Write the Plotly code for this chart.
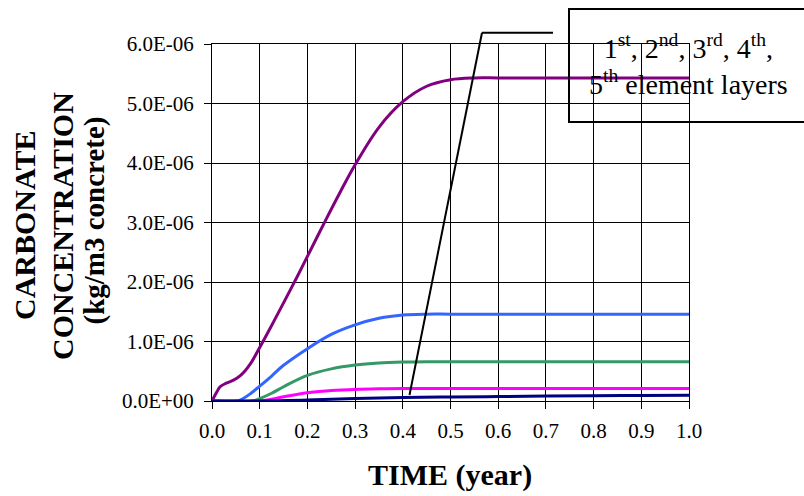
import plotly.graph_objects as go

# Carbonate concentration (units of 1E-06 kg/m3 concrete) versus time (year)
layer1_t = [0, 0.01, 0.017, 0.03, 0.045, 0.06, 0.08, 0.1, 0.125, 0.15, 0.178, 0.2,
            0.237, 0.27, 0.3, 0.35, 0.4, 0.45, 0.5, 0.55, 0.6, 0.7, 0.8, 0.9, 1.0]
layer1_c = [0, 0.15, 0.24, 0.3, 0.35, 0.43, 0.62, 0.9, 1.27, 1.65, 2.08, 2.43,
            3.02, 3.53, 3.97, 4.6, 5.03, 5.29, 5.4, 5.43, 5.43, 5.43, 5.43, 5.43, 5.43]

layer2_t = [0, 0.05, 0.06, 0.08, 0.1, 0.125, 0.15, 0.2, 0.25, 0.3, 0.35, 0.4, 0.45, 0.5,
            0.6, 0.7, 0.8, 0.9, 1.0]
layer2_c = [0, 0, 0.02, 0.12, 0.25, 0.42, 0.6, 0.88, 1.12, 1.28, 1.39, 1.445, 1.46, 1.46,
            1.46, 1.46, 1.46, 1.46, 1.46]

layer3_t = [0, 0.08, 0.09, 0.1, 0.125, 0.15, 0.2, 0.25, 0.3, 0.35, 0.4, 0.45, 0.5,
            0.6, 0.7, 0.8, 0.9, 1.0]
layer3_c = [0, 0, 0.01, 0.04, 0.13, 0.24, 0.43, 0.54, 0.605, 0.64, 0.655, 0.66, 0.66,
            0.66, 0.66, 0.66, 0.66, 0.66]

layer4_t = [0, 0.1, 0.125, 0.15, 0.2, 0.25, 0.3, 0.35, 0.4, 0.5, 0.6, 0.7, 0.8, 0.9, 1.0]
layer4_c = [0, 0, 0.03, 0.07, 0.14, 0.175, 0.195, 0.205, 0.21, 0.21, 0.21, 0.21, 0.21,
            0.21, 0.21]

layer5_t = [0, 0.1, 0.2, 0.3, 0.4, 0.5, 0.6, 0.7, 0.8, 0.9, 1.0]
layer5_c = [0, 0, 0.017, 0.04, 0.057, 0.067, 0.075, 0.082, 0.088, 0.093, 0.098]

series = [
    (layer1_t, layer1_c, "#800080"),
    (layer2_t, layer2_c, "#3366FF"),
    (layer3_t, layer3_c, "#339966"),
    (layer4_t, layer4_c, "#FF00FF"),
    (layer5_t, layer5_c, "#000080"),
]

y_tick_vals = [0, 1, 2, 3, 4, 5, 6]
y_tick_text = ["0.0E+00", "1.0E-06", "2.0E-06", "3.0E-06", "4.0E-06", "5.0E-06", "6.0E-06"]
x_tick_vals = [0, 0.1, 0.2, 0.3, 0.4, 0.5, 0.6, 0.7, 0.8, 0.9, 1.0]
x_tick_text = ["0.0", "0.1", "0.2", "0.3", "0.4", "0.5", "0.6", "0.7", "0.8", "0.9", "1.0"]

SCALE = 1e-6
SERIF = "Liberation Serif"

fig = go.Figure()
for t, c, col in series:
    fig.add_trace(go.Scatter(
        x=t, y=[v * SCALE for v in c], mode="lines",
        line=dict(color=col, width=3, shape="spline", smoothing=1.0),
        showlegend=False, hoverinfo="skip",
    ))

W, H = 804, 496
L, R, T, B = 212, 115, 44, 95
PW, PH = W - L - R, H - T - B


def px_x(p):
    return (p - L) / PW


def px_y(p):
    return (H - B - p) / PH


fig.update_layout(
    width=W, height=H,
    margin=dict(l=L, r=R, t=T, b=B, pad=0),
    paper_bgcolor="white", plot_bgcolor="white",
    font=dict(family=SERIF, color="black", size=21),
    xaxis=dict(
        range=[0, 1], tickvals=x_tick_vals, ticktext=x_tick_text,
        ticks="outside", ticklen=7, tickwidth=1, tickcolor="black",
        showgrid=True, gridcolor="black", gridwidth=1,
        showline=True, linecolor="black", linewidth=1, mirror=True,
        zeroline=False, tickfont=dict(size=21, family=SERIF, color="black"),
        ticklabelstandoff=4,
    ),
    yaxis=dict(
        range=[0, 6 * SCALE], tickvals=[v * SCALE for v in y_tick_vals], ticktext=y_tick_text,
        ticks="outside", ticklen=7, tickwidth=1, tickcolor="black",
        showgrid=True, gridcolor="black", gridwidth=1,
        showline=True, linecolor="black", linewidth=1, mirror=True,
        zeroline=False, tickfont=dict(size=21, family=SERIF, color="black"),
        ticklabelstandoff=6,
    ),
)

# Axis titles
fig.add_annotation(text="<b>TIME (year)</b>", xref="paper", yref="paper",
                   x=px_x(450), y=px_y(475), xanchor="center", yanchor="middle",
                   showarrow=False, font=dict(size=30, family=SERIF, color="black"))
fig.add_annotation(text="<b>CARBONATE</b>", xref="paper", yref="paper",
                   x=px_x(24), y=px_y(226), xanchor="center", yanchor="middle",
                   textangle=-90, showarrow=False, font=dict(size=30, family=SERIF, color="black"))
fig.add_annotation(text="<b>CONCENTRATION</b>", xref="paper", yref="paper",
                   x=px_x(62), y=px_y(226), xanchor="center", yanchor="middle",
                   textangle=-90, showarrow=False, font=dict(size=30, family=SERIF, color="black"))
fig.add_annotation(text="<b>(kg/m3 concrete)</b>", xref="paper", yref="paper",
                   x=px_x(93.5), y=px_y(221), xanchor="center", yanchor="middle",
                   textangle=-90, showarrow=False, font=dict(size=29, family=SERIF, color="black"))

# Callout box with leader line pointing at the curves
fig.add_shape(type="rect", xref="paper", yref="paper",
              x0=px_x(569), y0=px_y(122), x1=px_x(812), y1=px_y(9),
              line=dict(color="black", width=2), fillcolor="rgba(0,0,0,0)")
fig.add_shape(type="line", xref="paper", yref="paper",
              x0=px_x(553), y0=px_y(32.7), x1=px_x(482), y1=px_y(32.7),
              line=dict(color="black", width=2))
fig.add_shape(type="line", xref="paper", yref="paper",
              x0=px_x(482), y0=px_y(32.7), x1=px_x(409.5), y1=px_y(395),
              line=dict(color="black", width=2))
fig.add_annotation(
    text="1<sup>st</sup>, 2<sup>nd</sup>, 3<sup>rd</sup>, 4<sup>th</sup>,<br>"
         "5<sup>th</sup> element layers",
    xref="paper", yref="paper", x=px_x(688), y=px_y(64),
    xanchor="center", yanchor="middle", align="center",
    showarrow=False, font=dict(size=28, family=SERIF, color="black"),
)

fig.write_html("out.html")
